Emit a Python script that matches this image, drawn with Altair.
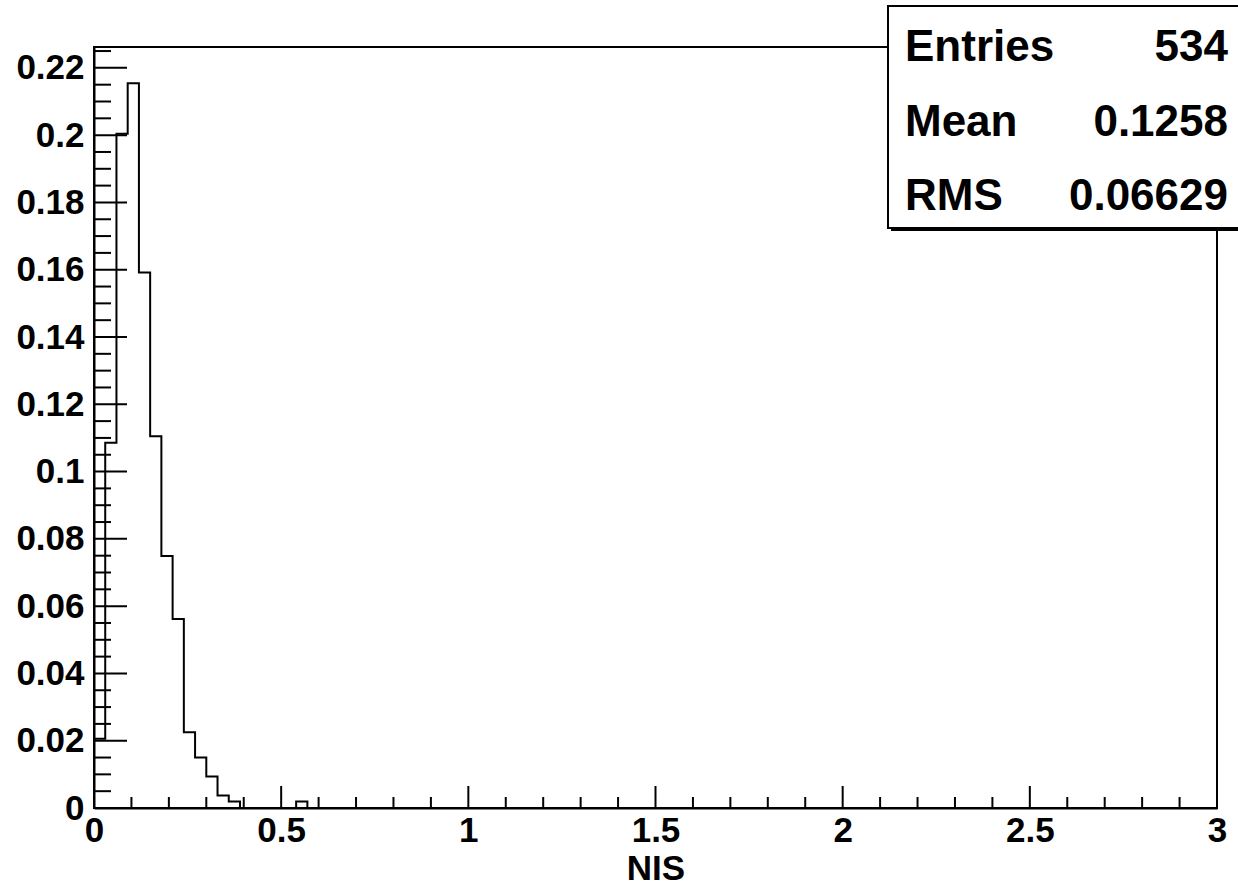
import altair as alt
import pandas as pd

# ---------------- data ----------------
x_min, x_max = 0.0, 3.0
bin_width = 0.03
bin_heights = [0.0206, 0.1086, 0.2004, 0.2154, 0.1592, 0.1105, 0.0749, 0.0562,
               0.0225, 0.0150, 0.0094, 0.0037, 0.0019, 0.0, 0.0, 0.0, 0.0, 0.0,
               0.0019] + [0.0] * 81
x_tick_values = [0, 0.5, 1, 1.5, 2, 2.5, 3]
y_tick_values = [0, 0.02, 0.04, 0.06, 0.08, 0.1, 0.12, 0.14, 0.16, 0.18, 0.2, 0.22]
x_minor_step = 0.1
y_minor_step = 0.005
y_top = 0.2262
x_title = "NIS"
stat_names = ["Entries", "Mean", "RMS"]
stat_values = ["534", "0.1258", "0.06629"]

FONT = "Liberation Sans"
W, H = 1123, 761

# step outline of the histogram
pts = [(x_min, 0.0)]
for i, v in enumerate(bin_heights):
    lo = x_min + i * bin_width
    hi = lo + bin_width
    pts.append((lo, v))
    pts.append((hi, v))
pts.append((x_max, 0.0))
hist_df = pd.DataFrame({"x": [p[0] for p in pts], "y": [p[1] for p in pts],
                        "o": list(range(len(pts)))})

xs = alt.Scale(domain=[x_min, x_max], nice=False, zero=False)
ys = alt.Scale(domain=[0, y_top], nice=False, zero=False)

x_axis = alt.Axis(values=x_tick_values, format="~g", ticks=False, grid=False,
                  labelFont=FONT, labelFontWeight="bold", labelFontSize=35,
                  labelColor="black", labelPadding=5, labelFlush=False,
                  labelOverlap=False, domainColor="black", domainWidth=2,
                  title=x_title, titleFont=FONT, titleFontWeight="bold",
                  titleFontSize=35, titleColor="black",
                  titleBaseline="alphabetic", titleY=71)
y_axis = alt.Axis(values=y_tick_values, format="~g", ticks=False, grid=False,
                  labelFont=FONT, labelFontWeight="bold", labelFontSize=35,
                  labelColor="black", labelPadding=10, labelOverlap=False,
                  labelFlush=False, domainColor="black", domainWidth=2, title=None)

hist = alt.Chart(hist_df).mark_line(color="black", strokeWidth=2, interpolate="linear").encode(
    x=alt.X("x:Q", scale=xs, axis=x_axis),
    y=alt.Y("y:Q", scale=ys, axis=y_axis),
    order=alt.Order("o:Q"),
)

# inward ticks (ROOT style)
n_xminor = int(round((x_max - x_min) / x_minor_step))
x_minor = [round(x_min + i * x_minor_step, 4) for i in range(1, n_xminor)]
x_minor = [v for v in x_minor if v not in x_tick_values]
x_major = [v for v in x_tick_values if x_min < v < x_max]
n_yminor = int(y_top / y_minor_step)
y_minor = [round(i * y_minor_step, 4) for i in range(1, n_yminor + 1)]
y_minor = [v for v in y_minor if v not in y_tick_values]
y_major = [v for v in y_tick_values if v > 0]

def xticks(vals, length):
    return alt.Chart(pd.DataFrame({"v": vals})).mark_rule(color="black", strokeWidth=2).encode(
        x=alt.X("v:Q", scale=xs), y=alt.value(H), y2=alt.value(H - length))

def yticks(vals, length):
    return alt.Chart(pd.DataFrame({"v": vals})).mark_rule(color="black", strokeWidth=2).encode(
        y=alt.Y("v:Q", scale=ys), x=alt.value(0), x2=alt.value(length))

# stats box
one = pd.DataFrame({"a": [0]})
shadow = alt.Chart(one).mark_rect(color="black").encode(
    x=alt.value(797), x2=alt.value(1152), y=alt.value(-38), y2=alt.value(184))
box = alt.Chart(one).mark_rect(fill="white", stroke="black", strokeWidth=2).encode(
    x=alt.value(794), x2=alt.value(1150), y=alt.value(-41), y2=alt.value(181))

stat_layers = []
for i, (nm, val) in enumerate(zip(stat_names, stat_values)):
    yb = 14 + i * 74.5
    d = pd.DataFrame({"name": [nm], "val": [val]})
    stat_layers.append(alt.Chart(d).mark_text(font=FONT, fontWeight="bold", fontSize=44,
                                              align="left", baseline="alphabetic", color="black").encode(
        text="name:N", x=alt.value(811), y=alt.value(yb)))
    stat_layers.append(alt.Chart(d).mark_text(font=FONT, fontWeight="bold", fontSize=44,
                                              align="right", baseline="alphabetic", color="black").encode(
        text="val:N", x=alt.value(1134), y=alt.value(yb)))

chart = alt.layer(
    hist,
    xticks(x_minor, 11), xticks(x_major, 22),
    yticks(y_minor, 17), yticks(y_major, 33),
    shadow, box, *stat_layers,
).properties(
    width=W, height=H,
    autosize=alt.AutoSizeParams(type="none"),
    padding={"left": 94, "top": 47, "right": 21, "bottom": 79},
    background="white",
).configure_view(stroke="black", strokeWidth=2)

chart.save("out.html", embed_options={"renderer": "svg", "actions": False})
